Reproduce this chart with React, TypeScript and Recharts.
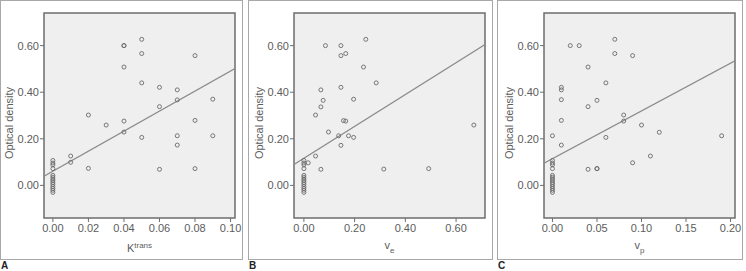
import React from "react";
import {
  ScatterChart,
  Scatter,
  XAxis,
  YAxis,
  ReferenceArea,
  ReferenceLine,
} from "recharts";

// cluster of samples sitting at x = 0 in every panel
const zeroClusterY = [0.107, 0.096, 0.088, 0.072, 0.043, 0.035, 0.027, 0.02, 0.012, 0.004, -0.005, -0.013, -0.021, -0.03];

const ktransX = [0.04, 0.04, 0.05, 0.05, 0.04, 0.08, 0.05, 0.06, 0.07, 0.07, 0.09, 0.06, 0.02, 0.03, 0.04, 0.08, 0.04, 0.05, 0.07, 0.09, 0.07, 0.01, 0.01, 0.02, 0.06, 0.08];
const ktransY = [0.6, 0.6, 0.627, 0.566, 0.508, 0.557, 0.44, 0.421, 0.41, 0.367, 0.37, 0.338, 0.302, 0.259, 0.276, 0.279, 0.229, 0.206, 0.213, 0.213, 0.173, 0.126, 0.099, 0.073, 0.069, 0.072];

const veX = [0.085, 0.146, 0.244, 0.146, 0.165, 0.235, 0.285, 0.067, 0.146, 0.076, 0.196, 0.067, 0.046, 0.156, 0.165, 0.097, 0.137, 0.176, 0.196, 0.146, 0.046, 0.017, 0.067, 0.315, 0.492, 0.67];
const veY = [0.6, 0.6, 0.627, 0.557, 0.566, 0.508, 0.44, 0.41, 0.421, 0.365, 0.37, 0.337, 0.302, 0.278, 0.276, 0.229, 0.213, 0.213, 0.206, 0.172, 0.126, 0.097, 0.069, 0.07, 0.072, 0.259];

const vpX = [0.02, 0.03, 0.07, 0.07, 0.09, 0.04, 0.06, 0.01, 0.01, 0.01, 0.05, 0.04, 0.08, 0.08, 0.01, 0.1, 0.12, 0.0, 0.19, 0.06, 0.01, 0.11, 0.09, 0.04, 0.05, 0.05];
const vpY = [0.6, 0.6, 0.627, 0.566, 0.557, 0.508, 0.44, 0.421, 0.41, 0.368, 0.365, 0.338, 0.302, 0.276, 0.279, 0.259, 0.228, 0.213, 0.213, 0.206, 0.173, 0.126, 0.097, 0.069, 0.072, 0.072];

// fitted lines: [intercept, slope]
const ktransFit = [0.061, 4.3];
const veFit = [0.116, 0.684];
const vpFit = [0.115, 2.05];

const ktransTicks = [0, 0.02, 0.04, 0.06, 0.08, 0.1];
const veTicks = [0, 0.2, 0.4, 0.6];
const vpTicks = [0, 0.05, 0.1, 0.15, 0.2];
const odTicks = [0, 0.2, 0.4, 0.6];

const Y_DOMAIN = [-0.14, 0.74];
const FONT = "'Liberation Sans', Arial, sans-serif";
const TEXT = "#5c5c5c";

const toPoints = (xs: number[], ys: number[]) => [
  ...xs.map((x, i) => ({ x, y: ys[i] })),
  ...zeroClusterY.map((y) => ({ x: 0, y })),
];

const Dot = (props: any) => (
  <circle cx={props.cx} cy={props.cy} r={2} fill="none" stroke="#6a6a6a" strokeWidth={0.9} />
);

function Panel({ left, width, plotLeft, xs, ys, fit, xDomain, xTicks, xLabel, letter }: {
  left: number;
  width: number;
  plotLeft: number;
  xs: number[];
  ys: number[];
  fit: number[];
  xDomain: number[];
  xTicks: number[];
  xLabel: React.ReactNode;
  letter: string;
}) {
  const data = toPoints(xs, ys);
  const [a, b] = fit;
  const plotRight = width - 8;
  const centerX = (plotLeft + plotRight) / 2;
  return (
    <div style={{ position: "absolute", left, top: 0, width, height: 271 }}>
      <div
        style={{
          position: "absolute", left: 0, top: 0, width, height: 260,
          boxSizing: "border-box", border: "1.5px solid #a8a8a8",
        }}
      />
      <div style={{ position: "absolute", left: 0, top: 0 }}>
        <ScatterChart width={width} height={260} margin={{ top: 13, right: 8, bottom: 0, left: 0 }}>
          <ReferenceArea
            x1={xDomain[0]} x2={xDomain[1]} y1={Y_DOMAIN[0]} y2={Y_DOMAIN[1]}
            fill="#efefef" fillOpacity={1} stroke="#6e6e6e" strokeWidth={1.5}
            ifOverflow="visible"
          />
          <XAxis
            type="number" dataKey="x" domain={xDomain} ticks={xTicks} allowDataOverflow
            height={42} axisLine={false} tickSize={4} tickMargin={2}
            tickLine={{ stroke: "#6e6e6e" }}
            tick={{ fontSize: 11, fill: TEXT, fontFamily: FONT }}
            tickFormatter={(v: number) => v.toFixed(2)}
          />
          <YAxis
            type="number" dataKey="y" domain={Y_DOMAIN} ticks={odTicks} allowDataOverflow
            width={plotLeft} axisLine={false} tickSize={4} tickMargin={1}
            tickLine={{ stroke: "#6e6e6e" }}
            tick={{ fontSize: 11, fill: TEXT, fontFamily: FONT }}
            tickFormatter={(v: number) => v.toFixed(2)}
          />
          <ReferenceLine
            segment={[
              { x: xDomain[0], y: a + b * xDomain[0] },
              { x: xDomain[1], y: a + b * xDomain[1] },
            ]}
            stroke="#8a8a8a" strokeWidth={1.2} ifOverflow="hidden"
          />
          <Scatter data={data} shape={<Dot />} isAnimationActive={false} />
        </ScatterChart>
      </div>
      <div
        style={{
          position: "absolute", left: plotLeft - 35, top: 123,
          transform: "translate(-50%, -50%) rotate(-90deg)",
          whiteSpace: "nowrap", fontSize: 11, color: TEXT, fontFamily: FONT,
        }}
      >
        Optical density
      </div>
      <div
        style={{
          position: "absolute", left: centerX, top: 247,
          transform: "translate(-50%, -50%)",
          whiteSpace: "nowrap", fontSize: 11, color: TEXT, fontFamily: FONT,
        }}
      >
        {xLabel}
      </div>
      <div
        style={{
          position: "absolute", left: 1, top: 261, lineHeight: "10px",
          fontSize: 10, fontWeight: "bold", color: "#222", fontFamily: FONT,
        }}
      >
        {letter}
      </div>
    </div>
  );
}

export default function App() {
  return (
    <div
      style={{
        position: "absolute", left: 0, top: 0, width: 746, height: 271,
        overflow: "hidden", background: "#fff",
      }}
    >
      <Panel
        left={0} width={243} plotLeft={44}
        xs={ktransX} ys={ktransY} fit={ktransFit}
        xDomain={[-0.005, 0.1025]} xTicks={ktransTicks}
        xLabel={<span>K<sup style={{ fontSize: 8 }}>trans</sup></span>}
        letter="A"
      />
      <Panel
        left={248} width={245} plotLeft={46}
        xs={veX} ys={veY} fit={veFit}
        xDomain={[-0.039, 0.714]} xTicks={veTicks}
        xLabel={<span>v<sub style={{ fontSize: 8 }}>e</sub></span>}
        letter="B"
      />
      <Panel
        left={497} width={246} plotLeft={47}
        xs={vpX} ys={vpY} fit={vpFit}
        xDomain={[-0.0095, 0.205]} xTicks={vpTicks}
        xLabel={<span>v<sub style={{ fontSize: 8 }}>p</sub></span>}
        letter="C"
      />
    </div>
  );
}
